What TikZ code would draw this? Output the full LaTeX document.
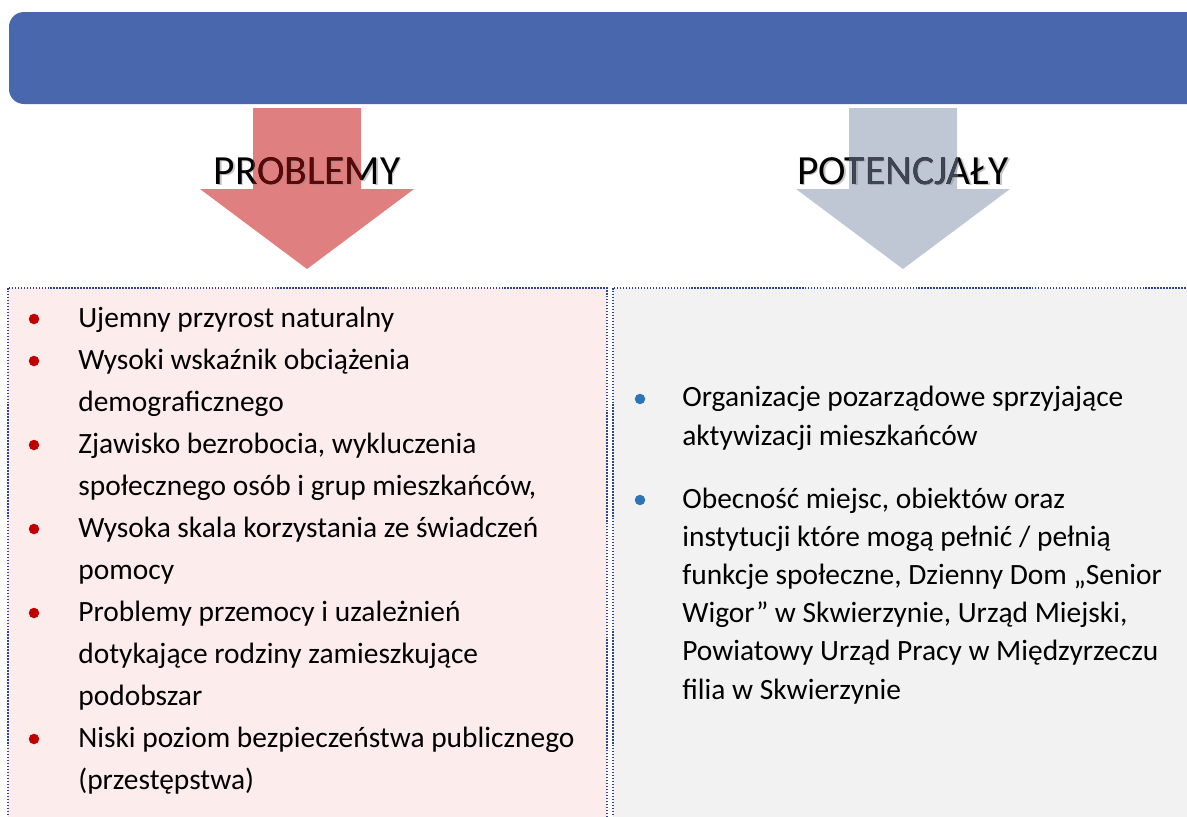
\documentclass[tikz,border=0pt]{standalone}
\usepackage{fontspec}
\setmainfont{Carlito}
\usepackage{xcolor}
\usepackage{tikz}
\usetikzlibrary{positioning, calc}
\definecolor{barblue}{RGB}{72,103,172}
\definecolor{arrowred}{RGB}{224,127,127}
\definecolor{arrowgrey}{RGB}{191,199,213}
\definecolor{probfill}{RGB}{253,236,236}
\definecolor{potfill}{RGB}{242,242,242}
\definecolor{dotnavy}{RGB}{47,72,138}
\definecolor{bulletred}{RGB}{192,0,0}
\definecolor{bulletblue}{RGB}{46,117,182}
\definecolor{textred}{RGB}{92,8,8}
\definecolor{textslate}{RGB}{62,70,86}
\tikzset{
    panel/.style={draw=dotnavy, line width=1pt, dash pattern=on 0.85pt off 0.85pt},
    heading/.style={font=\fontsize{23.6}{28}\selectfont, inner sep=0pt, anchor=base},
    item/.style={font=\fontsize{16.75}{23.9}\selectfont, align=left, inner sep=0pt, anchor=base west},
    itemr/.style={item, font=\fontsize{16.75}{21.7}\selectfont},
    dotbullet/.style={circle, inner sep=0pt, minimum size=0.21cm}
}

\begin{document}
\begin{tikzpicture}[x=0.02cm, y=-0.02cm]
    \useasboundingbox (0,0) rectangle (1187,816);
    \clip (0,0) rectangle (1187,816);

    % header bar
    \fill[barblue, rounded corners=8.5pt] (9,12) rectangle (1230,104);

    % arrows
    \fill[arrowred] (253,108) -- (361,108) -- (361,189) -- (414,189) -- (307,269)
        -- (200,189) -- (253,189) -- cycle;
    \fill[arrowgrey] (849,108) -- (957,108) -- (957,189) -- (1010,189) -- (903,269)
        -- (796,189) -- (849,189) -- cycle;

    % headings
    \node[heading, text=black!45, opacity=0.5] (probshadow) at (308.5,185.5) {PROBLEMY};
    \node[heading] (prob) at (307,184) {PROBLEMY};
    \begin{scope}
        \clip (253,108) rectangle (361,189);
        \node[heading, text=textred] (probin) at (307,184) {PROBLEMY};
    \end{scope}
    \node[heading, text=black!45, opacity=0.5] (potshadow) at (904.5,185.5) {POTENCJAŁY};
    \node[heading] (pot) at (903,184) {POTENCJAŁY};
    \begin{scope}
        \clip (849,108) rectangle (957,189);
        \node[heading, text=textslate] (potin) at (903,184) {POTENCJAŁY};
    \end{scope}

    % panels
    \path[panel, fill=probfill] (8,288) rectangle (607,840);
    \path[panel, fill=potfill] (613,288) rectangle (1230,840);

    % problems (placed by the baseline of their last line)
    \node[item] (p1) at (78,327) {Ujemny przyrost naturalny};
    \node[item] (p2) at (78,411) {Wysoki wskaźnik obciążenia\\demograficznego};
    \node[item] (p3) at (78,495) {Zjawisko bezrobocia, wykluczenia\\społecznego osób i grup mieszkańców,};
    \node[item] (p4) at (78,579) {Wysoka skala korzystania ze świadczeń\\pomocy};
    \node[item] (p5) at (78,705) {Problemy przemocy i uzależnień\\dotykające rodziny zamieszkujące\\podobszar};
    \node[item] (p6) at (78,789) {Niski poziom bezpieczeństwa publicznego\\(przestępstwa)};

    \node[dotbullet, fill=bulletred] (bp1) at (34,319) {};
    \node[dotbullet, fill=bulletred] (bp2) at (34,361) {};
    \node[dotbullet, fill=bulletred] (bp3) at (34,445) {};
    \node[dotbullet, fill=bulletred] (bp4) at (34,529) {};
    \node[dotbullet, fill=bulletred] (bp5) at (34,613) {};
    \node[dotbullet, fill=bulletred] (bp6) at (34,739) {};

    % potentials
    \node[itemr] (q1) at (682,445) {Organizacje pozarządowe sprzyjające\\aktywizacji mieszkańców};
    \node[itemr] (q2) at (682,699) {Obecność miejsc, obiektów oraz\\instytucji które mogą pełnić / pełnią\\funkcje społeczne, Dzienny Dom „Senior\\Wigor” w Skwierzynie, Urząd Miejski,\\Powiatowy Urząd Pracy w Międzyrzeczu\\filia w Skwierzynie};

    \node[dotbullet, fill=bulletblue] (bq1) at (640,399) {};
    \node[dotbullet, fill=bulletblue] (bq2) at (640,500) {};
\end{tikzpicture}
\end{document}
